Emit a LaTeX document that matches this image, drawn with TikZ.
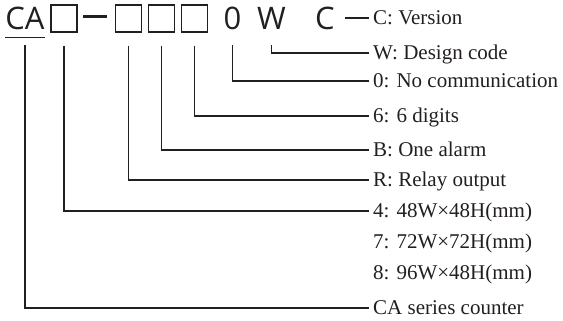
\documentclass[tikz,border=0pt]{standalone}
\usepackage{fontspec}
\setmainfont{Liberation Serif}
\newfontfamily\codefont{Open Sans}
\definecolor{ink}{RGB}{35,31,32}
\begin{document}
\begin{tikzpicture}[x=1pt,y=-1pt,
    code/.style={inner sep=0pt,text=ink,font=\codefont\fontsize{31}{33}\selectfont,text height=22pt,text depth=2pt},
    slot/.style={draw=ink,line width=1.1pt,minimum width=26pt,minimum height=27pt,inner sep=0pt},
    desc/.style={anchor=west,inner sep=0pt,text=ink,font=\fontsize{21}{23}\selectfont,text height=13.8pt,text depth=0pt},
    conn/.style={draw=ink,line width=1.1pt,shorten <=13pt,shorten >=4pt}]
    \useasboundingbox (0,0) rectangle (563,321);

    %Code
    \node[code] (ca) at (25,20) {CA};
    \draw[ink,line width=1.1pt] ([yshift=-5pt]ca.south west) -- ([yshift=-5pt]ca.south east);
    \node[slot] (size) at (64,18.5) {};
    \node[fill=ink,minimum width=24pt,minimum height=3pt,inner sep=0pt] (hyphen) at (95,17) {};
    \node[slot] (output) at (128.5,18.5) {};
    \node[slot] (alarm) at (161.5,18.5) {};
    \node[slot] (digits) at (194.5,18.5) {};
    \node[code] (comm) at (232.5,20) {0};
    \node[code] (design) at (271.5,20) {W};
    \node[code] (version) at (325,20) {C};

    %Descriptions
    \node[desc] (lversion) at (373,18) {C: Version};
    \node[desc] (ldesign) at (373,53) {W: Design code};
    \node[desc] (lcomm) at (373,81) {0: No communication};
    \node[desc] (ldigits) at (373,116) {6: 6 digits};
    \node[desc] (lalarm) at (373,150) {B: One alarm};
    \node[desc] (loutput) at (373,180) {R: Relay output};
    \node[desc] (lsize) at (373,211) {4: 48W×48H(mm)};
    \node[desc] (lsizeb) at (373,242) {7: 72W×72H(mm)};
    \node[desc] (lsizec) at (373,273) {8: 96W×48H(mm)};
    \node[desc] (lseries) at (373,308) {CA series counter};

    %Connectors
    \draw[ink,line width=2.5pt,shorten >=4pt] ([xshift=10pt]version.east |- lversion.west) -- (lversion.west);
    \draw[conn] (design.south) |- (ldesign.west);
    \draw[conn] (comm.south) |- (lcomm.west);
    \draw[conn] (digits.south) |- (ldigits.west);
    \draw[conn] (alarm.south) |- (lalarm.west);
    \draw[conn] (output.south) |- (loutput.west);
    \draw[conn] (size.south) |- (lsize.west);
    \draw[conn] (ca.south) |- (lseries.west);
\end{tikzpicture}
\end{document}
